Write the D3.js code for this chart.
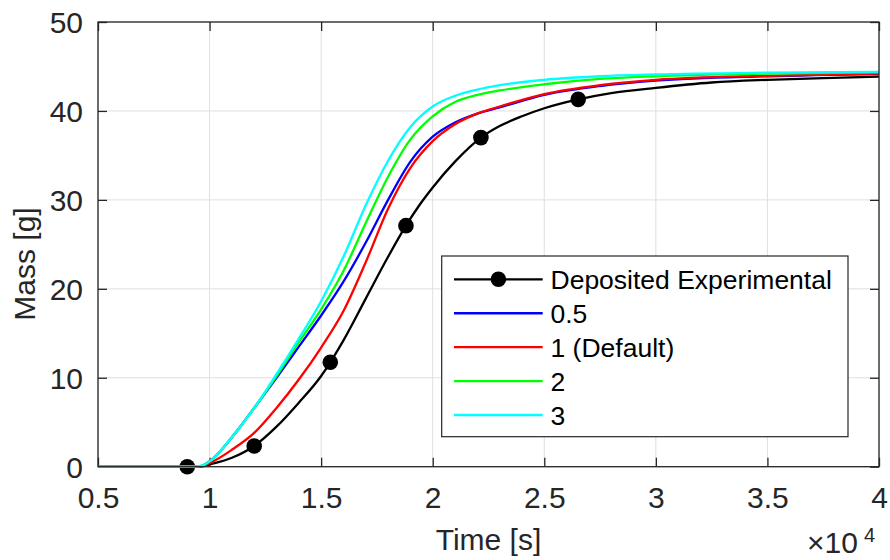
<!DOCTYPE html>
<html>
<head>
<meta charset="utf-8">
<script src="https://cdn.jsdelivr.net/npm/d3@7"></script>
<style>
  html, body { margin: 0; padding: 0; background: #ffffff; }
  svg { display: block; font-family: "Liberation Sans", Arial, Helvetica, sans-serif; }
</style>
</head>
<body>
<svg id="chart" width="890" height="560"></svg>
<script>
// ---- data -------------------------------------------------------------
// Deposited mass measured over time (line through the measurements)
const expTime = [5000, 9000, 9350, 9650, 10000, 11000, 12000, 13000, 14000, 15000, 15410,
                 16000, 17000, 18000, 18800, 19400, 20000, 21000, 22160, 23000, 24000,
                 25000, 26520, 28000, 30000, 32500, 35000, 37500, 40000];
const expMass = [0, 0, 0, 0.03, 0.25, 1.0, 2.33, 4.5, 7.2, 10.2, 11.74,
                 14.2, 18.9, 23.6, 27.1, 29.4, 31.4, 34.3, 37.0, 38.3, 39.4,
                 40.3, 41.3, 42.0, 42.6, 43.2, 43.5, 43.7, 43.85];
// Measured samples drawn as filled markers
const markerTime = [9000, 12000, 15410, 18800, 22160, 26520];
const markerMass = [0, 2.33, 11.74, 27.1, 37.0, 41.3];

// Simulated deposited mass for each parameter value
const simTime = [5000, 9300, 9650, 10000, 11000, 12000, 13000, 14000, 15000, 16000,
                 17000, 18000, 19000, 20000, 21000, 22000, 23000, 25000, 27500,
                 30000, 35000, 40000];
const mass05 = [0, 0, 0.1, 0.6, 3.3, 6.6, 10.0, 13.5, 17.0, 20.8,
                25.2, 30.0, 34.3, 37.1, 38.7, 39.7, 40.4, 41.8, 42.8,
                43.4, 43.9, 44.15];
const mass1  = [0, 0, 0.07, 0.4, 1.9, 3.8, 6.6, 9.8, 13.4, 17.5,
                23.0, 29.0, 33.6, 36.6, 38.5, 39.7, 40.5, 41.9, 42.9,
                43.5, 43.95, 44.2];
const mass2  = [0, 0, 0.1, 0.6, 3.3, 6.6, 10.2, 14.0, 17.7, 22.0,
                27.4, 32.6, 36.8, 39.4, 41.0, 41.8, 42.3, 43.0, 43.6,
                43.9, 44.2, 44.35];
const mass3  = [0, 0, 0.12, 0.6, 3.3, 6.6, 10.4, 14.4, 18.6, 23.6,
                29.4, 34.4, 38.2, 40.5, 41.7, 42.4, 42.9, 43.5, 43.9,
                44.1, 44.3, 44.4];

const seriesNames  = ["Deposited Experimental", "0.5", "1 (Default)", "2", "3"];
const seriesColors = ["#000000", "#0000ff", "#ff0000", "#00ff00", "#00ffff"];

const xTicks = [5000, 10000, 15000, 20000, 25000, 30000, 35000, 40000];
const xTickLabels = ["0.5", "1", "1.5", "2", "2.5", "3", "3.5", "4"];
const yTicks = [0, 10, 20, 30, 40, 50];
const yTickLabels = ["0", "10", "20", "30", "40", "50"];

// ---- layout ------------------------------------------------------------
const svg = d3.select("#chart");
const axisColor = "#262626";
const tickFont = 30;
const lineWidth = 2.3;
const plotLeft = 98, plotRight = 879, plotTop = 22, plotBottom = 466.7;

const x = d3.scaleLinear().domain([5000, 40000]).range([plotLeft, plotRight]);
const y = d3.scaleLinear().domain([0, 50]).range([plotBottom, plotTop]);

// grid
const grid = svg.append("g").attr("stroke", "#dfdfdf").attr("stroke-width", 1);
grid.selectAll("line.v").data(xTicks).join("line")
  .attr("x1", d => x(d)).attr("x2", d => x(d))
  .attr("y1", y(0)).attr("y2", y(50));
grid.selectAll("line.h").data(yTicks).join("line")
  .attr("x1", x(5000)).attr("x2", x(40000))
  .attr("y1", d => y(d)).attr("y2", d => y(d));

// axes with inward ticks on all four sides
function styleAxis(g) {
  g.select(".domain").remove();
  g.selectAll(".tick line").attr("stroke", axisColor).attr("stroke-width", 1.3);
  g.selectAll(".tick text").attr("fill", axisColor).attr("font-size", tickFont)
    .attr("font-family", "'Liberation Sans', Arial, sans-serif");
}

svg.append("g").attr("transform", `translate(0,${plotBottom})`)
  .call(d3.axisBottom(x).tickValues(xTicks).tickFormat((d, i) => xTickLabels[i])
        .tickSizeInner(-9).tickSizeOuter(0).tickPadding(20))
  .call(styleAxis)
  .call(g => g.selectAll(".tick text").attr("y", 41.3).attr("dy", 0));

svg.append("g").attr("transform", `translate(0,${plotTop})`)
  .call(d3.axisTop(x).tickValues(xTicks).tickFormat("").tickSizeInner(-9).tickSizeOuter(0))
  .call(styleAxis);

svg.append("g").attr("transform", `translate(${plotLeft},0)`)
  .call(d3.axisLeft(y).tickValues(yTicks).tickFormat((d, i) => yTickLabels[i])
        .tickSizeInner(-9).tickSizeOuter(0).tickPadding(15))
  .call(styleAxis)
  .call(g => g.selectAll(".tick text").attr("dy", "0.35em"));

svg.append("g").attr("transform", `translate(${plotRight},0)`)
  .call(d3.axisRight(y).tickValues(yTicks).tickFormat("").tickSizeInner(-9).tickSizeOuter(0))
  .call(styleAxis);

// series
const line = d3.line().x(d => x(d[0])).y(d => y(d[1])).curve(d3.curveMonotoneX);

svg.append("path").datum(d3.zip(expTime, expMass))
  .attr("fill", "none").attr("stroke-width", lineWidth).attr("stroke-linejoin", "round")
  .attr("stroke", seriesColors[0]).attr("d", line);
svg.append("g").selectAll("circle").data(d3.zip(markerTime, markerMass)).join("circle")
  .attr("cx", d => x(d[0])).attr("cy", d => y(d[1])).attr("r", 7.8)
  .attr("fill", seriesColors[0]);

[mass05, mass1, mass2, mass3].forEach((m, i) => {
  svg.append("path").datum(d3.zip(simTime, m))
    .attr("fill", "none").attr("stroke-width", lineWidth).attr("stroke-linejoin", "round")
    .attr("stroke", seriesColors[i + 1]).attr("d", line);
});

// frame
svg.append("rect").attr("x", plotLeft).attr("y", plotTop)
  .attr("width", plotRight - plotLeft).attr("height", plotBottom - plotTop)
  .attr("fill", "none").attr("stroke", axisColor).attr("stroke-width", 1.3);

// axis labels
svg.append("text").attr("x", (plotLeft + plotRight) / 2).attr("y", 550)
  .attr("text-anchor", "middle").attr("font-size", tickFont).attr("fill", axisColor)
  .text("Time [s]");
svg.append("text").attr("transform", "translate(34.5,264) rotate(-90)")
  .attr("text-anchor", "middle").attr("font-size", tickFont).attr("fill", axisColor)
  .text("Mass [g]");

// exponent for the time axis
const expo = svg.append("text").attr("x", 807).attr("y", 553)
  .attr("font-size", 30).attr("fill", axisColor);
expo.append("tspan").text("\u00d710");
expo.append("tspan").attr("dx", 6).attr("dy", -11).attr("font-size", 20).text("4");

// legend
const legX0 = 441.7, legX1 = 848, legY0 = 256, legY1 = 436.7;
const row = d3.scaleLinear().domain([0, seriesNames.length - 1]).range([279.3, 415]);
const legend = svg.append("g");
legend.append("rect").attr("x", legX0).attr("y", legY0)
  .attr("width", legX1 - legX0).attr("height", legY1 - legY0)
  .attr("fill", "#ffffff").attr("stroke", axisColor).attr("stroke-width", 1.2);
const entry = legend.selectAll("g.entry").data(seriesNames).join("g")
  .attr("transform", (d, i) => `translate(0,${row(i)})`);
entry.append("line").attr("x1", 454).attr("x2", 542.7).attr("y1", 0).attr("y2", 0)
  .attr("stroke", (d, i) => seriesColors[i]).attr("stroke-width", lineWidth);
entry.filter((d, i) => i === 0).append("circle")
  .attr("cx", 498.4).attr("cy", 0).attr("r", 7.8).attr("fill", seriesColors[0]);
entry.append("text").attr("x", 550.5).attr("y", 0).attr("dy", "0.36em")
  .attr("font-size", 26.5).attr("fill", "#000000").text(d => d);
</script>
</body>
</html>
